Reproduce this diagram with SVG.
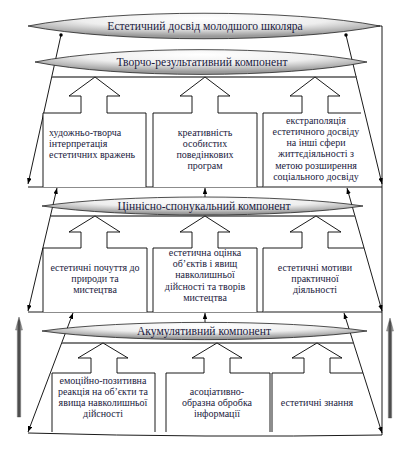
<svg xmlns="http://www.w3.org/2000/svg" width="400" height="453" viewBox="0 0 400 453" font-family="'Liberation Serif', 'Times New Roman', serif">
<defs>
<radialGradient id="eg" cx="50%" cy="25%" r="65%" fx="50%" fy="20%">
<stop offset="0" stop-color="#ffffff"/>
<stop offset="0.55" stop-color="#eeeeee"/>
<stop offset="1" stop-color="#9a9a9a"/>
</radialGradient>
<linearGradient id="bg" x1="0" y1="0" x2="1" y2="0">
<stop offset="0" stop-color="#c8c8c8"/>
<stop offset="0.5" stop-color="#3a3a3a"/>
<stop offset="1" stop-color="#c8c8c8"/>
</linearGradient>
<marker id="ah" viewBox="0 0 8 6" refX="8" refY="3" markerWidth="6" markerHeight="4.5" markerUnits="userSpaceOnUse" orient="auto-start-reverse">
<path d="M0,0 L8,3 L0,6 Z" fill="#000"/>
</marker>
<marker id="dot" viewBox="0 0 4 4" refX="2" refY="2" markerWidth="3.5" markerHeight="3.5" markerUnits="userSpaceOnUse">
<circle cx="2" cy="2" r="2" fill="#000"/>
</marker>
</defs>
<style>
.ln{fill:none;stroke:#000;stroke-width:0.9}
.ul{fill:none;stroke:#555;stroke-width:1.6}
.bx{fill:#fff;stroke:#000;stroke-width:0.9}
.el{fill:url(#eg);stroke:#222;stroke-width:0.8}
text{font-family:'Liberation Serif','Times New Roman',serif}
.t{fill:#1a1a40;text-anchor:middle}
.et{font-size:11.6px}
.bt{font-size:10px}
.lt{text-anchor:start}
.ba{fill:url(#bg);stroke:#444;stroke-width:0.4}
</style>

<g id="connectors">
<path class="ln" d="M376,26 L382,26 L382,435"/>
<path class="ln" d="M28,187 L382,187"/>
<path class="ln" d="M28,312 L382,312"/>
<path class="ln" d="M28,433 Q205,438 382,435"/>
<path class="ln" d="M61,35 L28,184" marker-start="url(#dot)" marker-end="url(#ah)"/>
<path class="ln" d="M346,35 L382,184" marker-start="url(#dot)" marker-end="url(#ah)"/>
<path class="ln" d="M57,188 L28,311" marker-start="url(#ah)" marker-end="url(#ah)"/>
<path class="ln" d="M347,188 L382,311" marker-start="url(#ah)" marker-end="url(#ah)"/>
<path class="ln" d="M205,198 L205,188" marker-end="url(#ah)"/>
<path class="ln" d="M73,313 L28,432" marker-start="url(#ah)" marker-end="url(#ah)"/>
<path class="ln" d="M344,313 L382,433" marker-start="url(#ah)" marker-end="url(#ah)"/>
<path class="ln" d="M205,324 L205,313" marker-end="url(#ah)"/>
<path class="ul" d="M52,77 L357,77"/>
<path class="ul" d="M51,216 L355,216"/>
<path class="ul" d="M62,343 L353,343"/>
<path class="ba" d="M19,317 L22.5,330 L20.7,330 L20.7,417 L17.3,417 L17.3,330 L15.5,330 Z"/>
<path class="ba" d="M390,318 L393.5,331 L391.7,331 L391.7,418 L388.3,418 L388.3,331 L386.5,331 Z"/>
</g>

<g id="n-top">
<path class="el" d="M28,26 C116,9 292,9 380,26 C292,43 116,43 28,26 Z"/>
<text class="t et" x="205" y="30">Естетичний досвід молодшого школяра</text>
</g>

<g id="n-tvorcho">
<path class="el" d="M35,62 C118,45.5 284,45.5 367,62 C284,78.5 118,78.5 35,62 Z"/>
<text class="t et" x="202" y="66">Творчо-результативний компонент</text>
</g>

<g id="n-tsinnisno">
<path class="el" d="M42,206 C122,194 283,194 363,206 C283,218 122,218 42,206 Z"/>
<text class="t et" x="204" y="210">Ціннісно-спонукальний компонент</text>
</g>

<g id="n-akum">
<path class="el" d="M42,331 C123,319.5 286,319.5 367,331 C286,342.5 123,342.5 42,331 Z"/>
<text class="t et" x="204" y="335">Акумулятивний компонент</text>
</g>

<g id="b1-1">
<path class="bx" d="M43,187 L43,113 L81,113 L81,96 L69,96 L95,77 L120,96 L107,96 L107,113 L146,113 L146,187"/>
<text class="t bt lt" x="49" y="136">художньо-творча</text>
<text class="t bt lt" x="49" y="147">інтерпретація</text>
<text class="t bt lt" x="49" y="158">естетичних вражень</text>
</g>
<g id="b1-2">
<path class="bx" d="M153,187 L153,113 L192,113 L192,96 L180,96 L205,77 L230,96 L218,96 L218,113 L257,113 L257,187"/>
<text class="t bt" x="205" y="136">креативність</text>
<text class="t bt" x="205" y="147">особистих</text>
<text class="t bt" x="205" y="158">поведінкових</text>
<text class="t bt" x="205" y="169">програм</text>
</g>
<g id="b1-3">
<path class="bx" d="M263,187 L263,113 L302,113 L302,96 L290,96 L315,77 L340,96 L328,96 L328,113 L361,113"/>
<text class="t bt" x="316" y="124">екстраполяція</text>
<text class="t bt" x="316" y="135">естетичного досвіду</text>
<text class="t bt" x="316" y="146">на інші сфери</text>
<text class="t bt" x="316" y="157">життєдіяльності з</text>
<text class="t bt" x="316" y="169">метою розширення</text>
<text class="t bt" x="316" y="180">соціального досвіду</text>
</g>

<g id="b2-1">
<path class="bx" d="M43,312 L43,248 L81,248 L81,232 L69,232 L95,216 L120,232 L107,232 L107,248 L147,248 L147,312"/>
<text class="t bt" x="95" y="271">естетичні почуття до</text>
<text class="t bt" x="95" y="282">природи та</text>
<text class="t bt" x="95" y="293">мистецтва</text>
</g>
<g id="b2-2">
<path class="bx" d="M153,312 L153,248 L192,248 L192,232 L180,232 L205,216 L230,232 L218,232 L218,248 L257,248 L257,312"/>
<text class="t bt" x="205" y="256">естетична оцінка</text>
<text class="t bt" x="205" y="267">об’єктів і явищ</text>
<text class="t bt" x="205" y="278">навколишньої</text>
<text class="t bt" x="205" y="290">дійсності та творів</text>
<text class="t bt" x="205" y="301">мистецтва</text>
</g>
<g id="b2-3">
<path class="bx" d="M263,312 L263,248 L302,248 L302,232 L290,232 L316,216 L341,232 L328,232 L328,248 L364,248"/>
<text class="t bt" x="315" y="271">естетичні мотиви</text>
<text class="t bt" x="315" y="282">практичної</text>
<text class="t bt" x="315" y="293">діяльності</text>
</g>

<g id="b3-1">
<path class="bx" d="M52,432 L52,373 L91,373 L91,358 L78,358 L103,343 L128,358 L117,358 L117,373 L155,373 L155,432"/>
<text class="t bt" x="103" y="384">емоційно-позитивна</text>
<text class="t bt" x="103" y="395">реакція на об’єкти та</text>
<text class="t bt" x="103" y="406">явища навколишньої</text>
<text class="t bt" x="103" y="417">дійсності</text>
</g>
<g id="b3-2">
<path class="bx" d="M166,432 L166,373 L204,373 L204,358 L192,358 L217,343 L242,358 L230,358 L230,373 L270,373 L270,432"/>
<text class="t bt" x="217" y="395">асоціативно-</text>
<text class="t bt" x="217" y="406">образна обробка</text>
<text class="t bt" x="217" y="417">інформації</text>
</g>
<g id="b3-3">
<path class="bx" d="M272,432 L272,373 L304,373 L304,358 L292,358 L317,343 L342,358 L330,358 L330,373 L363,373"/>
<text class="t bt" x="317" y="406">естетичні знання</text>
</g>
</svg>
